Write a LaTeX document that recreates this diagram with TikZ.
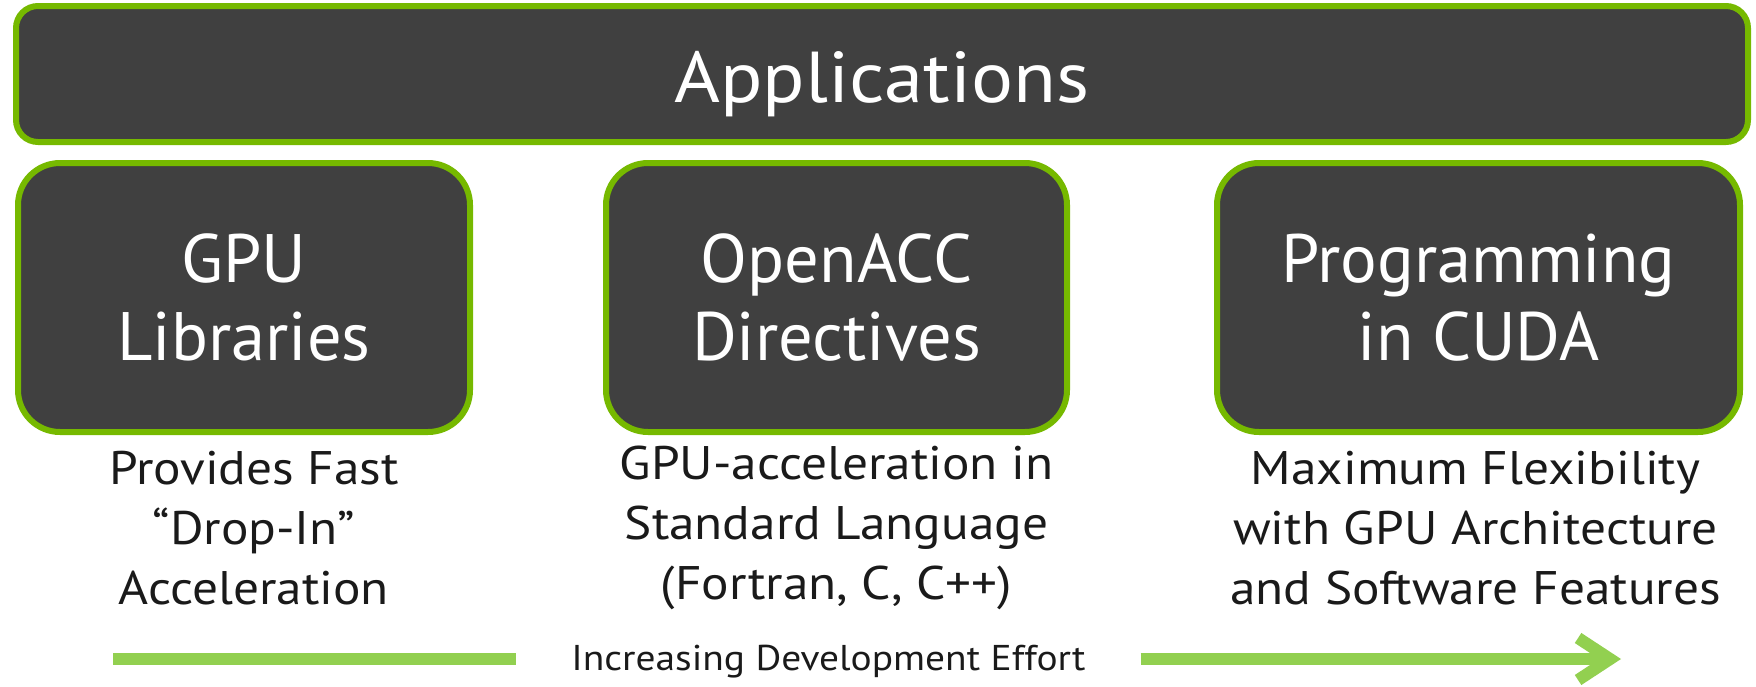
\documentclass[tikz,border=0pt]{standalone}
\usepackage{fontspec}
\setmainfont{PT Sans}
\newfontfamily\widefont{PT Sans}[FakeStretch=1.09]
\newfontfamily\effortfont{PT Sans}[FakeStretch=1.1]
\usetikzlibrary{arrows.meta,positioning}
\definecolor{NVGreen}{HTML}{76B900}
\definecolor{NVArrow}{HTML}{92D050}
\definecolor{NVGray}{HTML}{404040}
\definecolor{NVText}{HTML}{1A1A1A}

\begin{document}
\begin{tikzpicture}[x=0.1mm,y=-0.1mm,line cap=round,line join=round,
  layer/.style={draw=NVGreen,fill=NVGray,line width=0.6mm,rounded corners=2.2mm,text=white,
    font=\widefont\fontsize{20.5}{24}\selectfont,text height=5.6mm,text depth=0mm,
    minimum height=13.6mm,minimum width=173.2mm},
  tool/.style={draw=NVGreen,fill=NVGray,line width=0.6mm,rounded corners=4.2mm,text=white,
    align=center,font=\fontsize{19.5}{22.2}\selectfont,minimum height=26.9mm},
  desc/.style={text=NVText,align=center,font=\widefont\fontsize{13.4}{17}\selectfont},
  effortbar/.style={NVArrow,line width=1.2mm,line cap=butt}]
  \useasboundingbox (0,0) rectangle (1756,686);
  \node[layer] (apps) at (882,74) {Applications};
  \node[tool,minimum width=45.2mm] (gpu) at (244,297.5) {GPU\\Libraries};
  \node[tool,minimum width=46.1mm] (acc) at (836.5,297.5) {OpenACC\\Directives};
  \node[tool,minimum width=52.3mm] (cuda) at (1478.5,297.5) {Programming\\in CUDA};
  \coordinate (descrow) at (0,528);
  \node[desc,xshift=1mm] (gpudesc) at (gpu |- descrow) {Provides Fast\\“Drop-In”\\Acceleration};
  \node[desc] (accdesc) at (acc |- descrow) {GPU-acceleration in\\Standard Language\\(Fortran, C, C++)};
  \node[desc,xshift=-0.3mm] (cudadesc) at (cuda |- descrow) {Maximum Flexibility\\with GPU Architecture\\and Software Features};
  % effort arrow
  \node[text=NVText,font=\effortfont\fontsize{10.2}{12}\selectfont,inner xsep=0mm,minimum width=62.3mm] (effort) at (828.5,662) {Increasing Development Effort};
  \coordinate (barstart) at (113,659);
  \coordinate (bartip) at (1621,659);
  \draw[effortbar] (barstart) -- (effort.west |- barstart);
  \draw[effortbar,-{Straight Barb[length=3.2mm,width=4.2mm]}] (effort.east |- barstart) -- (bartip);
\end{tikzpicture}
\end{document}
